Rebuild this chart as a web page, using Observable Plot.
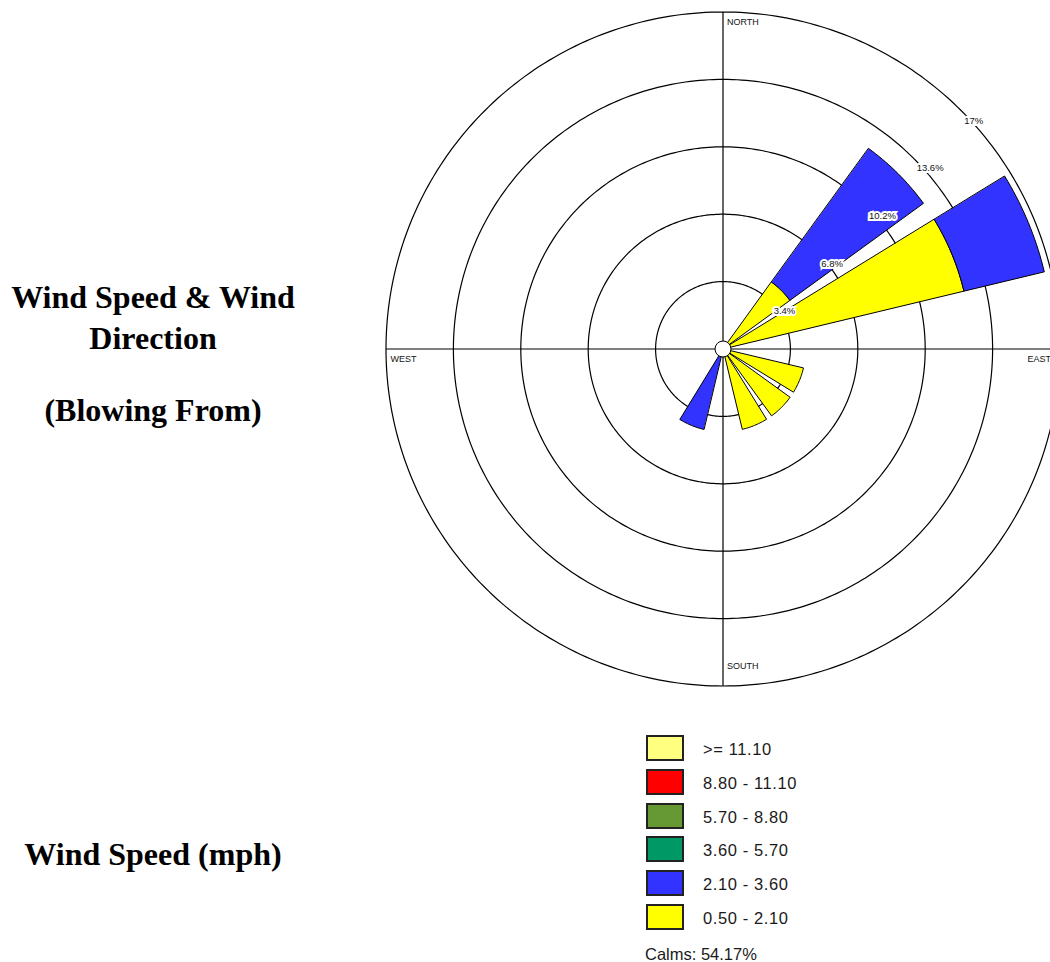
<!DOCTYPE html>
<html>
<head>
<meta charset="utf-8">
<script src="https://cdn.jsdelivr.net/npm/d3@7"></script>
<script src="https://cdn.jsdelivr.net/npm/@observablehq/plot@0.6"></script>
<style>
html, body { margin: 0; padding: 0; background: #fff; overflow: hidden; width: 1050px; height: 962px; }
#page { position: relative; width: 1050px; height: 962px; }
#chart { position: absolute; left: 0; top: 0; }
.title { position: absolute; left: 0; width: 306px; text-align: center; font-family: "Liberation Serif", "Times New Roman", serif; font-weight: bold; font-size: 32px; line-height: 32px; color: #000; white-space: nowrap; }
.sw { position: absolute; left: 646px; width: 34px; height: 22px; border: 2px solid #222; }
.lt { position: absolute; left: 703px; font-family: "Liberation Sans", Arial, sans-serif; font-size: 16.5px; line-height: 16.5px; color: #1a1a1a; white-space: nowrap; }
.rng { letter-spacing: 0.6px; }
</style>
</head>
<body>
<div id="page"><div id="chart"></div></div>
<script>
// ---- data ----
const directions = ["N","NNE","NE","ENE","E","ESE","SE","SSE","S","SSW","SW","WSW","W","WNW","NW","NNW"];
const speedClasses = ["0.50 - 2.10","2.10 - 3.60","3.60 - 5.70","5.70 - 8.80","8.80 - 11.10",">= 11.10"];
const classColors  = ["#ffff00","#3333ff","#009966","#669933","#ff0000","#ffff80"];
// frequency (%) per direction for each wind-speed class
const freq_050_210 = [0,0,4.17,12.5,0,4.17,4.17,4.17,0,0,0,0,0,0,0,0];
const freq_210_360 = [0,0,8.33,4.17,0,0,0,0,0,4.17,0,0,0,0,0,0];
const freq_360_570 = [0,0,0,0,0,0,0,0,0,0,0,0,0,0,0,0];
const freq_570_880 = [0,0,0,0,0,0,0,0,0,0,0,0,0,0,0,0];
const freq_880_1110 = [0,0,0,0,0,0,0,0,0,0,0,0,0,0,0,0];
const freq_1110_up = [0,0,0,0,0,0,0,0,0,0,0,0,0,0,0,0];
const ringValues = [3.4, 6.8, 10.2, 13.6, 17];
const ringLabels = ["3.4%", "6.8%", "10.2%", "13.6%", "17%"];
const compassLabels = ["NORTH", "EAST", "SOUTH", "WEST"];
const calmsPct = "54.17%";
const titleLines = ["Wind Speed & Wind", "Direction", "(Blowing From)"];
const legendTitle = "Wind Speed (mph)";

const speedSeries = [freq_050_210, freq_210_360, freq_360_570, freq_570_880, freq_880_1110, freq_1110_up];

// ---- layout ----
const W = 1050, H = 700, CX = 722.5, CY = 348.5;
const RMAX = ringValues[ringValues.length - 1];
const K = 337 / RMAX;            // px per percent
const HALF = 9;                  // half sector width, degrees
const rad = a => a * Math.PI / 180;
const px = (r, a) => r * Math.sin(rad(a));
const py = (r, a) => r * Math.cos(rad(a));

// stacked wedge polygons
const wedges = [];
directions.forEach((dir, i) => {
  const b = i * 360 / directions.length;
  let r0 = 0;
  speedSeries.forEach((series, s) => {
    const v = series[i];
    if (!v) return;
    const r1 = r0 + v;
    const id = dir + "-" + s;
    const color = classColors[s];
    for (let a = b - HALF; a <= b + HALF + 1e-9; a += 1) wedges.push({id, color, x: px(r1, a), y: py(r1, a)});
    if (r0 === 0) wedges.push({id, color, x: 0, y: 0});
    else for (let a = b + HALF; a >= b - HALF - 1e-9; a -= 1) wedges.push({id, color, x: px(r0, a), y: py(r0, a)});
    r0 = r1;
  });
});

const rings = ringValues.flatMap(r => d3.range(0, 360, 1).map(a => ({r, x: px(r, a), y: py(r, a)})));
const axesLines = [
  {x1: -RMAX, y1: 0, x2: RMAX, y2: 0},
  {x1: 0, y1: -RMAX, x2: 0, y2: RMAX}
];
const ringLabelData = ringValues.map((r, i) => ({x: px(r, 45), y: py(r, 45), text: ringLabels[i]}));

const chart = Plot.plot({
  width: W, height: H, margin: 0,
  x: {domain: [-CX / K, (W - CX) / K], axis: null},
  y: {domain: [-(H - CY) / K, CY / K], axis: null},
  color: {type: "identity"},
  style: {overflow: "hidden", background: "white", fontFamily: "'Liberation Sans', Arial, sans-serif"},
  marks: [
    Plot.line(rings, {x: "x", y: "y", z: "r", curve: "linear-closed", stroke: "#000", strokeWidth: 1.2}),
    Plot.link(axesLines, {x1: "x1", y1: "y1", x2: "x2", y2: "y2", stroke: "#000", strokeWidth: 1.2}),
    Plot.line(wedges, {x: "x", y: "y", z: "id", fill: "color", curve: "linear-closed", stroke: "#000", strokeWidth: 1}),
    Plot.dot([{x: 0, y: 0}], {x: "x", y: "y", r: 8, fill: "white", stroke: "#000", strokeWidth: 1}),
    Plot.text(ringLabelData, {x: "x", y: "y", text: "text", dx: 3, dy: 10, textAnchor: "start", fontSize: 9.5, fill: "#111", stroke: "white", strokeWidth: 4, strokeLinejoin: "miter"}),
    Plot.text([compassLabels[0]], {x: 0, y: RMAX, text: d => d, dx: 4, dy: 10, textAnchor: "start", fontSize: 9, fill: "#111"}),
    Plot.text([compassLabels[1]], {x: RMAX, y: 0, text: d => d, dx: -9, dy: 10.5, textAnchor: "end", fontSize: 9, fill: "#111"}),
    Plot.text([compassLabels[2]], {x: 0, y: -RMAX, text: d => d, dx: 4, dy: -19.5, textAnchor: "start", fontSize: 9, fill: "#111"}),
    Plot.text([compassLabels[3]], {x: -RMAX, y: 0, text: d => d, dx: 4.5, dy: 10.5, textAnchor: "start", fontSize: 9, fill: "#111"})
  ]
});
document.getElementById("chart").appendChild(chart);

// ---- titles & legend (HTML) ----
const page = document.getElementById("page");
function addDiv(cls, text, top, extra) {
  const d = document.createElement("div");
  d.className = cls;
  d.textContent = text;
  d.style.top = top + "px";
  if (extra) Object.assign(d.style, extra);
  page.appendChild(d);
  return d;
}
const titleTops = [281, 322, 394];
titleLines.forEach((t, i) => addDiv("title", t, titleTops[i]));
addDiv("title", legendTitle, 837.5);

const order = d3.range(speedClasses.length).reverse();
order.forEach((s, i) => {
  const top = 735 + i * 33.8;
  const sw = document.createElement("div");
  sw.className = "sw";
  sw.style.top = top + "px";
  sw.style.background = classColors[s];
  page.appendChild(sw);
  addDiv("lt rng", speedClasses[s], top + 13 - 7);
});
addDiv("lt", "Calms: " + calmsPct, 946, {left: "645px"});
</script>
</body>
</html>
